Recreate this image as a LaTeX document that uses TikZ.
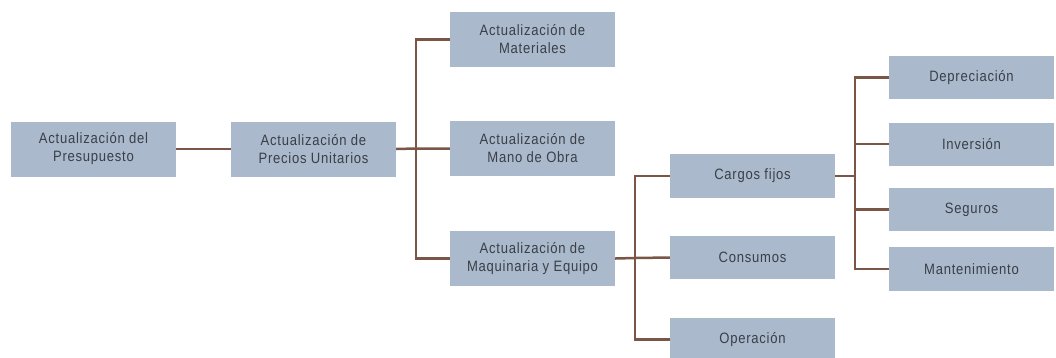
\documentclass[tikz,border=0pt]{standalone}
\usepackage{fontspec}
\setmainfont{Liberation Sans}[FakeStretch=0.87,LetterSpace=5]
\definecolor{boxfill}{HTML}{AAB9CB}
\definecolor{linec}{HTML}{7A5646}
\definecolor{txt}{HTML}{3A3F48}
\begin{document}
\begin{tikzpicture}[x=1pt,y=-1pt,
  box/.style={rectangle,fill=boxfill,inner sep=0pt,minimum width=165pt,
    align=center,text=txt,font=\fontsize{15}{18}\selectfont},
  conn/.style={draw=linec,line width=2.5pt}]
\useasboundingbox (0,0) rectangle (1056,357);
\node[box,minimum height=55pt] (b1) at (93.5,149) {Actualización del\\Presupuesto};
\node[box,minimum height=55pt] (b2) at (313.5,149) {Actualización de\\Precios Unitarios};
\node[box,minimum height=55pt] (b3) at (532.5,39.5) {Actualización de\\Materiales};
\node[box,minimum height=55pt] (b4) at (532.5,148.5) {Actualización de\\Mano de Obra};
\node[box,minimum height=55pt] (b5) at (532.5,258.5) {Actualización de\\Maquinaria y Equipo};
\node[box,minimum height=44pt] (c1) at (752.5,176) {Cargos fijos};
\node[box,minimum height=43pt] (c2) at (752.5,257.5) {Consumos};
\node[box,minimum height=43pt] (c3) at (752.5,339.5) {Operación};
\node[box,minimum height=43pt] (d1) at (971.5,77.5) {Depreciación};
\node[box,minimum height=43pt] (d2) at (971.5,144) {Inversión};
\node[box,minimum height=43pt] (d3) at (971.5,209.5) {Seguros};
\node[box,minimum height=44pt] (d4) at (971.5,269) {Mantenimiento};
\coordinate (j1) at (416,148.5);
\coordinate (j2) at (635,258);
\coordinate (j3) at (855,176);
\draw[conn] (b1.east) -- (b2.west);
\draw[conn] (b2.east) -- (j1) -- (b4.west);
\draw[conn] (b3.west) -| (j1) |- (b5.west);
\draw[conn] (b5.east) -- (j2) -- (c2.west);
\draw[conn] (c1.west) -| (j2) |- (c3.west);
\draw[conn] (c1.east) -- (j3);
\draw[conn] (d1.west) -| (j3) |- (d4.west);
\draw[conn] (j3 |- d2.west) -- (d2.west);
\draw[conn] (j3 |- d3.west) -- (d3.west);
\end{tikzpicture}
\end{document}
